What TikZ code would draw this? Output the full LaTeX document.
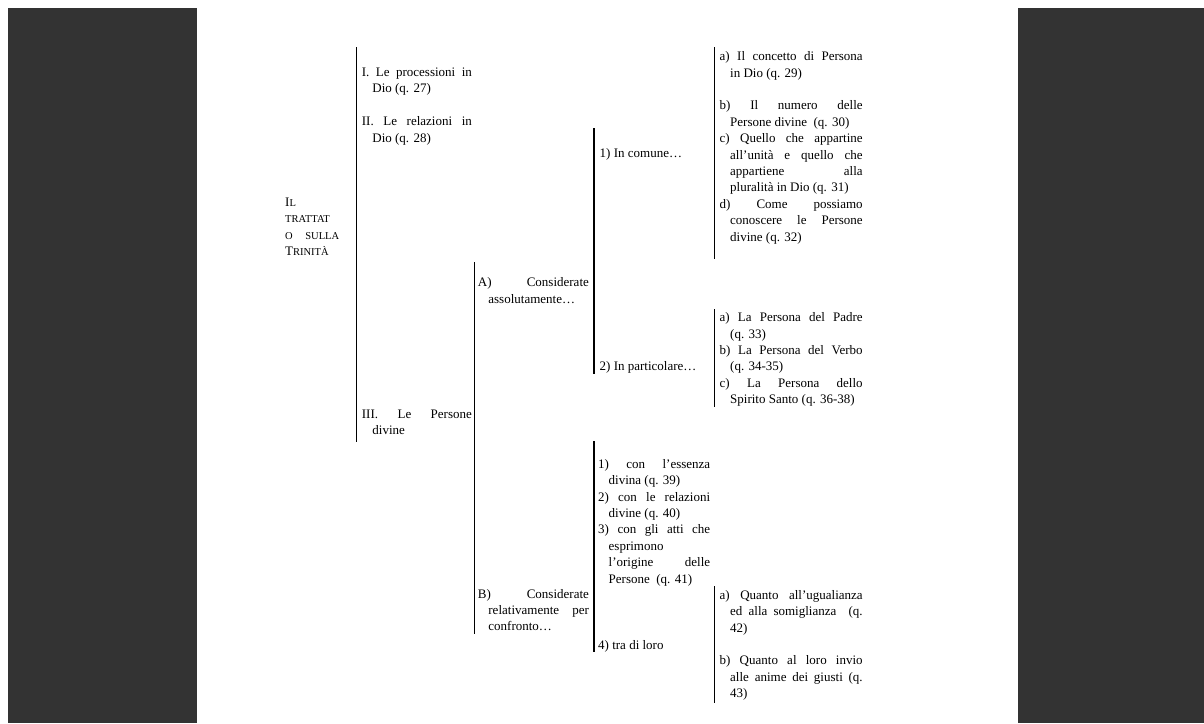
\documentclass[tikz,border=0pt]{standalone}
\usepackage{fontspec}
\setmainfont{Liberation Serif}
\definecolor{pannello}{RGB}{51,51,51}
\def\voce{\hangindent=10.5pt\hangafter=1\relax}
\def\riga{\par\vspace{16.4pt}}
\def\piccolo#1{{\fontsize{10.5}{16.4}\selectfont #1}}
\def\regole{\tolerance=9999\relax\hyphenpenalty=10000\relax\exhyphenpenalty=10000\relax\hbadness=10000\relax}

\begin{document}
\begin{tikzpicture}[x=1pt, y=-1pt,
		barra/.style={line width=1.8pt},
		testo/.style={anchor=base west, inner sep=0pt, align=justify, font=\fontsize{13}{16.4}\selectfont\regole}]
			%%%%% START %%%%%
			
			\useasboundingbox (0, 0) rectangle (1204, 723);
			\fill[white] (0, 0) rectangle (1204, 723);
			\fill[pannello] (8, 8) rectangle (197, 723);
			\fill[pannello] (1018, 8) rectangle (1204, 723);
			
			\node[testo, text width=54pt] (trattato) at (285, 206.5) {I\piccolo{L}\linebreak \piccolo{TRATTAT}\linebreak \piccolo{O SULLA}\linebreak T\piccolo{RINITÀ}\par};
			
			\node[testo, text width=110pt] (processioni) at (361.7, 76.5) {\voce I. Le processioni in\linebreak Dio (q. 27)\riga\voce II. Le relazioni in\linebreak Dio (q. 28)\par};
			\node[testo, text width=110pt] (persone) at (361.7, 418) {\voce III. Le Persone\linebreak divine\par};
			
			\node[testo, text width=111pt] (assoluta) at (477.7, 286.7) {\voce A) Considerate\linebreak assolutamente…\par};
			\node[testo, text width=111pt] (relativa) at (477.7, 598) {\voce B) Considerate\linebreak relativamente per\linebreak confronto…\par};
			
			\node[testo, text width=111pt] (comune) at (599.5, 157) {\voce 1) In comune…\par};
			\node[testo, text width=111pt] (particolare) at (599.5, 370.7) {\voce 2) In particolare…\par};
			\node[testo, text width=112pt] (confronti) at (598, 468.3) {\voce 1) con l’essenza\linebreak divina (q. 39)\par\voce 2) con le relazioni\linebreak divine (q. 40)\par\voce 3) con gli atti che\linebreak esprimono\linebreak l’origine delle\linebreak Persone\ \ (q. 41)\par};
			\node[testo, text width=112pt] (loro) at (598, 649.3) {\voce 4) tra di loro\par};
			
			\node[testo, text width=143pt] (comuni) at (719.5, 60.7) {\voce a) Il concetto di Persona\linebreak in Dio (q. 29)\riga\voce b) Il numero delle\linebreak Persone divine\ \ (q. 30)\par\voce c) Quello che appartine\linebreak all’unità e quello che\linebreak appartiene alla\linebreak pluralità in Dio (q. 31)\par\voce d) Come possiamo\linebreak conoscere le Persone\linebreak divine (q. 32)\par};
			\node[testo, text width=143pt] (particolari) at (719.5, 321.7) {\voce a) La Persona del Padre\linebreak (q. 33)\par\voce b) La Persona del Verbo\linebreak (q. \mbox{34-35})\par\voce c) La Persona dello\linebreak Spirito Santo (q. \mbox{36-38})\par};
			\node[testo, text width=143pt] (rispetti) at (719.5, 599.3) {\voce a) Quanto all’ugualianza\linebreak ed alla somiglianza\ \ (q.\linebreak 42)\riga\voce b) Quanto al loro invio\linebreak alle anime dei giusti (q.\linebreak 43)\par};
			
			% barre
			\coordinate (parti-su) at (356.5, 47);
			\coordinate (parti-giu) at (356.5, 442);
			\draw[barra] (parti-su) -- (parti-giu);
			
			\coordinate (modi-su) at (474.5, 262);
			\coordinate (modi-giu) at (474.5, 634);
			\draw[barra] (modi-su) -- (modi-giu);
			
			\coordinate (assoluta-su) at (594, 128);
			\coordinate (assoluta-giu) at (594, 374);
			\draw[barra] (assoluta-su) -- (assoluta-giu);
			
			\coordinate (relativa-su) at (594, 441);
			\coordinate (relativa-giu) at (594, 652);
			\draw[barra] (relativa-su) -- (relativa-giu);
			
			\coordinate (comune-su) at (714.5, 47);
			\coordinate (comune-giu) at (714.5, 259);
			\draw[barra] (comune-su) -- (comune-giu);
			
			\coordinate (particolare-su) at (714.5, 309);
			\coordinate (particolare-giu) at (714.5, 407);
			\draw[barra] (particolare-su) -- (particolare-giu);
			
			\coordinate (loro-su) at (714.5, 586);
			\coordinate (loro-giu) at (714.5, 703);
			\draw[barra] (loro-su) -- (loro-giu);
			
			%%%%% END %%%%%
		\end{tikzpicture}
\end{document}
